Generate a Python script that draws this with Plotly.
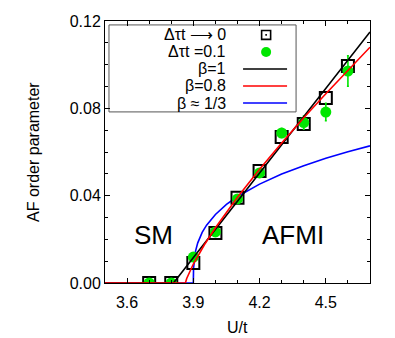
import plotly.graph_objects as go

# data
u = [3.7, 3.8, 3.9, 4.0, 4.1, 4.2, 4.3, 4.4, 4.5, 4.6]
m_dt0 = [0.0, 0.0, 0.0092, 0.0229, 0.0390, 0.0513, 0.0669, 0.0728, 0.0847, 0.0994]
m_dt01 = [0.0, 0.0, 0.0119, 0.0234, 0.0385, 0.0504, 0.0687, 0.0735, 0.0783, 0.0971]
m_dt01_err = [0.0, 0.0, 0.001, 0.001, 0.001, 0.001, 0.002, 0.003, 0.004, 0.007]

# fit curves
u_b1 = [3.5, 3.81, 4.7]
m_b1 = [0.0, 0.0, 0.115]
u_b08 = [3.5, 3.864, 3.87, 3.88, 3.9, 3.95, 4.0, 4.1, 4.2, 4.3, 4.4, 4.5, 4.6, 4.7]
m_b08 = [0.0, 0.0, 0.0021, 0.0046, 0.0087, 0.0175, 0.0253, 0.0393, 0.0521, 0.0641,
         0.0757, 0.0867, 0.0975, 0.108]
u_b13 = [3.5, 3.9, 3.901, 3.905, 3.91, 3.92, 3.94, 3.96, 4.0, 4.05, 4.1, 4.2, 4.3,
         4.4, 4.5, 4.6, 4.7]
m_b13 = [0.0, 0.0, 0.0068, 0.0116, 0.0146, 0.0184, 0.0232, 0.0265, 0.0314, 0.0360,
         0.0396, 0.0453, 0.0499, 0.0537, 0.0571, 0.0601, 0.0628]

x_ticks = [3.6, 3.9, 4.2, 4.5]
y_ticks = [0.0, 0.04, 0.08, 0.12]

GREEN = "#00e600"
FONT = "Liberation Sans, Arial, sans-serif"

fig = go.Figure()
fig.add_trace(go.Scatter(x=u_b13, y=m_b13, mode="lines", line=dict(color="#0000ff", width=1.6)))
fig.add_trace(go.Scatter(x=u, y=m_dt0, mode="markers",
                         marker=dict(symbol="square-open", size=12, color="black",
                                     line=dict(width=2, color="black"))))
fig.add_trace(go.Scatter(x=u, y=m_dt01, mode="markers",
                         error_y=dict(type="data", array=m_dt01_err, color=GREEN,
                                      thickness=1.6, width=1),
                         marker=dict(symbol="circle", size=11, color=GREEN)))
fig.add_trace(go.Scatter(x=u_b1, y=m_b1, mode="lines", line=dict(color="black", width=1.6)))
fig.add_trace(go.Scatter(x=u_b08, y=m_b08, mode="lines", line=dict(color="#ff0000", width=1.6)))

axis_common = dict(showgrid=False, zeroline=False, showline=True, linecolor="black",
                   linewidth=1, mirror="ticks", ticks="inside", ticklen=5, automargin=False,
                   tickcolor="black", tickfont=dict(size=16, color="black"))
fig.update_xaxes(range=[3.5, 4.7], tickvals=x_ticks, tickformat=".1f", ticklabelstandoff=5,
                 minor=dict(dtick=0.1, ticks="inside", ticklen=3, tickcolor="black"),
                 **axis_common)
fig.update_yaxes(range=[0, 0.12], tickvals=y_ticks, tickformat=".2f",
                 minor=dict(dtick=0.01, ticks="inside", ticklen=3, tickcolor="black"),
                 **axis_common)

# legend drawn in the gnuplot style: text on the left, sample on the right
shapes = [dict(type="rect", xref="paper", yref="paper", x0=0.015, x1=0.721, y0=0.653, y1=0.985,
               line=dict(color="#555555", width=1), fillcolor="white", layer="below")]
labels = ["Δτt ⟶ 0", "Δτt =0.1", "β=1", "β=0.8", "β ≈ 1/3"]
rows = [0.947, 0.882, 0.817, 0.752, 0.687]
annotations = []
for lab, yy in zip(labels, rows):
    annotations.append(dict(text=lab, xref="paper", yref="paper", x=0.464, y=yy,
                            xanchor="right", yanchor="middle", showarrow=False,
                            font=dict(size=16, color="black", family=FONT)))
# marker samples
shapes.append(dict(type="rect", xref="paper", yref="paper", x0=0.591, x1=0.625,
                   y0=rows[0] - 0.017, y1=rows[0] + 0.017, line=dict(color="black", width=1.6)))
shapes.append(dict(type="rect", xref="paper", yref="paper", x0=0.605, x1=0.611,
                   y0=rows[0] - 0.003, y1=rows[0] + 0.003, line=dict(width=0), fillcolor="black"))
shapes.append(dict(type="circle", xref="paper", yref="paper", x0=0.589, x1=0.627,
                   y0=rows[1] - 0.019, y1=rows[1] + 0.019, line=dict(width=0), fillcolor=GREEN))
for col, yy in zip(["black", "#ff0000", "#0000ff"], rows[2:]):
    shapes.append(dict(type="line", xref="paper", yref="paper", x0=0.521, x1=0.687,
                       y0=yy, y1=yy, line=dict(color=col, width=1.6)))

annotations.append(dict(text="SM", x=3.718, y=0.0222, showarrow=False,
                        font=dict(size=26, color="black", family=FONT)))
annotations.append(dict(text="AFMI", x=4.35, y=0.0222, showarrow=False,
                        font=dict(size=26, color="black", family=FONT)))

# axis titles placed by hand so the plot area keeps its size
annotations.append(dict(text="U/t", xref="paper", yref="paper", x=0.5, y=-0.168,
                        xanchor="center", yanchor="middle", showarrow=False,
                        font=dict(size=16, color="black", family=FONT)))
annotations.append(dict(text="AF order parameter", xref="paper", yref="paper", x=-0.272, y=0.5,
                        xanchor="center", yanchor="middle", showarrow=False, textangle=-90,
                        font=dict(size=16, color="black", family=FONT)))

# page body adds an 8px offset, so the figure is trimmed by that much
fig.update_layout(width=387, height=330, margin=dict(l=97, r=25, t=13, b=55),
                  paper_bgcolor="white", plot_bgcolor="white", showlegend=False,
                  font=dict(family=FONT, color="black"),
                  shapes=shapes, annotations=annotations)

fig.write_html("out.html")
